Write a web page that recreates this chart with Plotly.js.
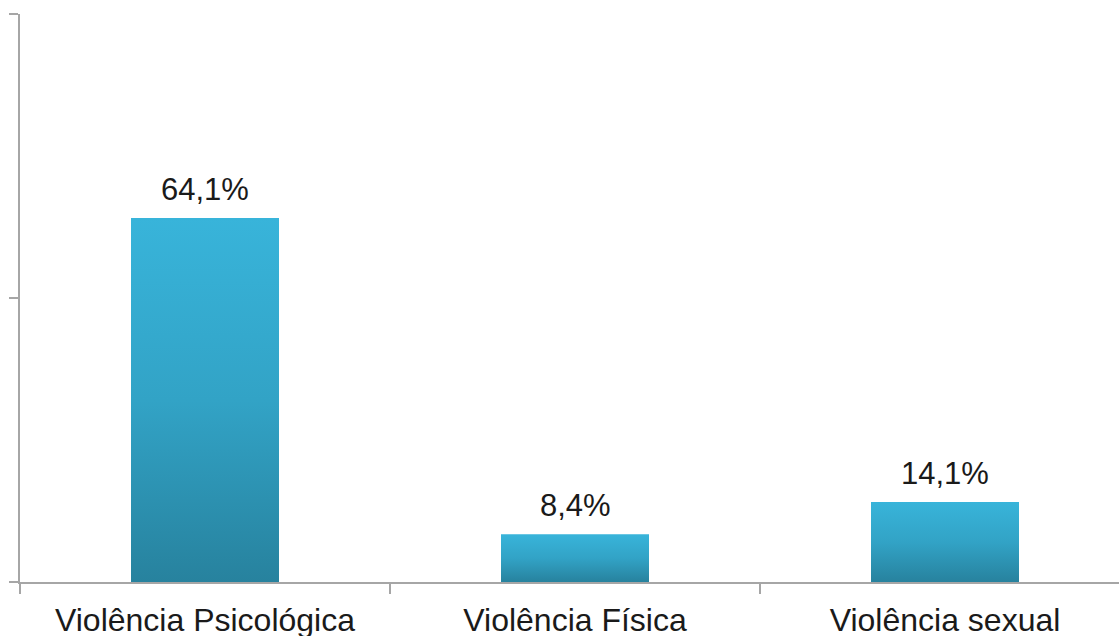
<!DOCTYPE html>
<html>
<head>
<meta charset="utf-8">
<script src="https://cdn.plot.ly/plotly-3.0.1.min.js"></script>
<style>
html,body{margin:0;padding:0;overflow:hidden;background:#fff;}
#chart{width:1130px;height:636px;}
</style>
</head>
<body>
<div id="chart"></div>
<script>
const categories = ["Violência Psicológica", "Violência Física", "Violência sexual"];
const values = [64.1, 8.4, 14.1];
const valueLabels = ["64,1%", "8,4%", "14,1%"];

const FONT = "Liberation Sans, Arial, sans-serif";

const trace = {
  type: "bar",
  x: categories,
  y: values,
  marker: {color: "#31a2c6", line: {width: 0}},
  hoverinfo: "skip"
};

const annotations = categories.map(function(c, i){
  return {
    x: c, y: values[i], xref: "x", yref: "y",
    text: valueLabels[i],
    showarrow: false,
    xanchor: "center", yanchor: "bottom",
    yshift: 9,
    font: {family: FONT, size: 31, color: "#1a1a1a"}
  };
});

const layout = {
  width: 1130,
  height: 636,
  margin: {l: 20, r: 0, t: 14, b: 54},
  paper_bgcolor: "#ffffff",
  plot_bgcolor: "#ffffff",
  bargap: 0.6,
  showlegend: false,
  separators: ",.",
  font: {family: FONT, color: "#1a1a1a"},
  annotations: annotations,
  xaxis: {
    type: "category",
    showline: true,
    linecolor: "#a6a6a6",
    linewidth: 2,
    ticks: "outside",
    tickson: "boundaries",
    ticklen: 10,
    tickwidth: 2,
    tickcolor: "#a6a6a6",
    ticklabelstandoff: 9,
    tickfont: {family: FONT, size: 32, color: "#1a1a1a"},
    showgrid: false,
    zeroline: false,
    fixedrange: true
  },
  yaxis: {
    range: [0, 100],
    dtick: 50,
    tick0: 0,
    showline: true,
    linecolor: "#a6a6a6",
    linewidth: 2,
    ticks: "outside",
    ticklen: 9,
    tickwidth: 2,
    tickcolor: "#a6a6a6",
    showticklabels: false,
    showgrid: false,
    zeroline: false,
    fixedrange: true
  }
};

Plotly.newPlot("chart", [trace], layout, {displayModeBar: false, staticPlot: true}).then(function(gd){
  const svg = gd.querySelector("svg.main-svg");
  const ns = "http://www.w3.org/2000/svg";
  let defs = svg.querySelector("defs");
  if (!defs) { defs = document.createElementNS(ns, "defs"); svg.insertBefore(defs, svg.firstChild); }
  const grad = document.createElementNS(ns, "linearGradient");
  grad.setAttribute("id", "barGrad");
  grad.setAttribute("x1", "0"); grad.setAttribute("y1", "0");
  grad.setAttribute("x2", "0"); grad.setAttribute("y2", "1");
  [["0", "#38b4da"], ["0.5", "#32a3c6"], ["1", "#27829e"]].forEach(function(s){
    const st = document.createElementNS(ns, "stop");
    st.setAttribute("offset", s[0]);
    st.setAttribute("stop-color", s[1]);
    grad.appendChild(st);
  });
  defs.appendChild(grad);
  gd.querySelectorAll(".barlayer .point path").forEach(function(p){
    p.style.fill = "url(#barGrad)";
  });
});
</script>
</body>
</html>
